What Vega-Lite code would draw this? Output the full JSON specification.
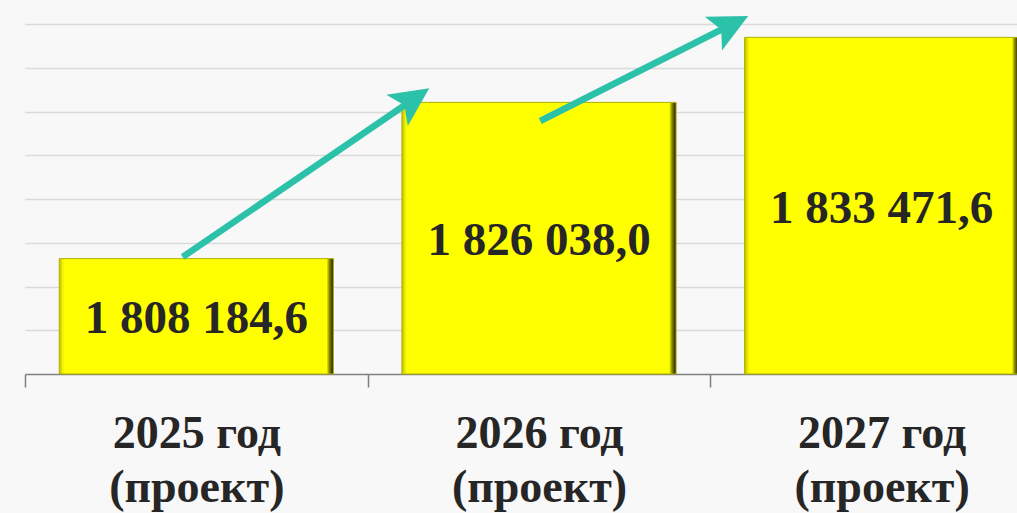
{
  "$schema": "https://vega.github.io/schema/vega-lite/v6.json",
  "width": 992,
  "height": 350,
  "autosize": {"type": "none"},
  "padding": {"left": 25, "top": 24, "right": 0, "bottom": 139},
  "background": "#F8F8F8",
  "config": {
    "view": {"stroke": null},
    "font": "Liberation Serif",
    "locale": {"number": {"decimal": ",", "thousands": " ", "grouping": [3], "currency": ["", ""]}}
  },
  "datasets": {
    "bars": [
      {"year": "2025 год", "value": 1808184.6},
      {"year": "2026 год", "value": 1826038.0},
      {"year": "2027 год", "value": 1833471.6}
    ],
    "arrows": [
      {"arrow": 1, "x0": 0.4602, "y0": 1808371, "x1": 1.1172, "y1": 1825974, "hx": 1.1328, "hy": 1826394},
      {"arrow": 2, "x0": 1.5037, "y0": 1823914, "x1": 2.0429, "y1": 1834569, "hx": 2.0598, "hy": 1834909}
    ]
  },
  "layer": [
    {
      "data": {"name": "bars"},
      "mark": {
        "type": "bar",
        "width": {"band": 0.8},
        "fill": {
          "gradient": "linear", "x1": 0, "y1": 0, "x2": 1, "y2": 0,
          "stops": [
            {"offset": 0, "color": "#BDBD00"},
            {"offset": 0.012, "color": "#F0F000"},
            {"offset": 0.02, "color": "#FFFF00"},
            {"offset": 0.975, "color": "#FFFF00"},
            {"offset": 0.985, "color": "#8A8A00"},
            {"offset": 1, "color": "#1A1A00"}
          ]
        },
        "stroke": "#B0B000",
        "strokeWidth": 1
      },
      "encoding": {
        "x": {
          "field": "year", "type": "nominal",
          "scale": {"range": [0, 1028], "paddingInner": 0, "paddingOuter": 0},
          "axis": {
            "title": null, "grid": false,
            "domain": true, "domainColor": "#7F7F7F", "domainWidth": 1.5,
            "ticks": true, "tickBand": "extent", "tickColor": "#7F7F7F", "tickWidth": 1.5, "tickSize": 13,
            "labelFont": "Liberation Serif", "labelFontSize": 46, "labelFontWeight": "bold", "labelColor": "#262626",
            "labelAngle": 0, "labelPadding": 24, "labelLineHeight": 54,
            "labelExpr": "datum.label ? [datum.label, '(проект)'] : ''"
          }
        },
        "y": {
          "field": "value", "type": "quantitative",
          "scale": {"domain": [1795000, 1835000], "zero": false, "nice": false},
          "axis": {
            "title": null, "labels": false, "ticks": false, "domain": false,
            "grid": true, "gridColor": "#D9D9D9", "gridWidth": 1.5,
            "values": [1800000, 1805000, 1810000, 1815000, 1820000, 1825000, 1830000, 1835000]
          }
        },
        "y2": {"datum": 1795000}
      }
    },
    {
      "data": {"name": "bars"},
      "transform": [{"calculate": "(datum.value + 1795000) / 2", "as": "mid"}],
      "mark": {"type": "text", "fontSize": 47, "fontWeight": "bold", "color": "#262626", "baseline": "middle", "align": "center", "dy": 3},
      "encoding": {
        "x": {"field": "year", "type": "nominal", "scale": {"range": [0, 1028], "paddingInner": 0, "paddingOuter": 0}, "axis": null},
        "y": {"field": "mid", "type": "quantitative", "scale": {"domain": [1795000, 1835000], "zero": false, "nice": false}},
        "text": {"field": "value", "type": "quantitative", "format": ",.1f"}
      }
    },
    {
      "data": {"name": "arrows"},
      "mark": {"type": "rule", "color": "#2CC1A9", "strokeWidth": 6.5, "strokeCap": "butt"},
      "encoding": {
        "x": {"field": "x0", "type": "quantitative", "scale": {"domain": [0, 3], "range": [0, 1028], "nice": false, "zero": false}, "axis": null},
        "x2": {"field": "x1"},
        "y": {"field": "y0", "type": "quantitative", "scale": {"domain": [1795000, 1835000], "zero": false, "nice": false}},
        "y2": {"field": "y1"}
      }
    },
    {
      "data": {"name": "arrows"},
      "transform": [{"filter": "datum.arrow == 1"}],
      "mark": {"type": "point", "filled": true, "color": "#2CC1A9", "opacity": 1, "size": 1521, "angle": 325.6, "shape": "M1,0L-1,-0.97L-0.55,0L-1,0.97Z"},
      "encoding": {
        "x": {"field": "hx", "type": "quantitative", "scale": {"domain": [0, 3], "range": [0, 1028], "nice": false, "zero": false}, "axis": null},
        "y": {"field": "hy", "type": "quantitative", "scale": {"domain": [1795000, 1835000], "zero": false, "nice": false}}
      }
    },
    {
      "data": {"name": "arrows"},
      "transform": [{"filter": "datum.arrow == 2"}],
      "mark": {"type": "point", "filled": true, "color": "#2CC1A9", "opacity": 1, "size": 1521, "angle": 333.1, "shape": "M1,0L-1,-0.97L-0.55,0L-1,0.97Z"},
      "encoding": {
        "x": {"field": "hx", "type": "quantitative", "scale": {"domain": [0, 3], "range": [0, 1028], "nice": false, "zero": false}, "axis": null},
        "y": {"field": "hy", "type": "quantitative", "scale": {"domain": [1795000, 1835000], "zero": false, "nice": false}}
      }
    }
  ],
  "resolve": {"scale": {"x": "independent"}}
}
